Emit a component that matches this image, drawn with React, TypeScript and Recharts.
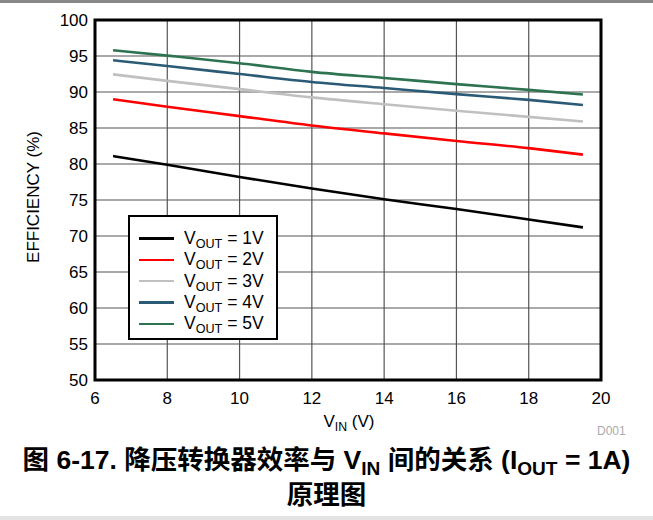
import { LineChart, Line, XAxis, YAxis, CartesianGrid, ReferenceArea } from 'recharts'

// V_IN sample points (V)
const vin = [6.5, 8, 10, 12, 14, 16, 18, 19.5]

// efficiency (%) per output voltage
const eff1V = [81.1, 79.9, 78.2, 76.6, 75.1, 73.75, 72.3, 71.2]
const eff2V = [89.0, 87.95, 86.65, 85.35, 84.25, 83.2, 82.2, 81.3]
const eff3V = [92.45, 91.55, 90.4, 89.25, 88.3, 87.4, 86.55, 85.9]
const eff4V = [94.4, 93.6, 92.5, 91.4, 90.55, 89.7, 88.9, 88.2]
const eff5V = [95.8, 95.05, 94.0, 92.8, 91.95, 91.1, 90.3, 89.65]

const xTicks = [6, 8, 10, 12, 14, 16, 18, 20]
const yTicks = [50, 55, 60, 65, 70, 75, 80, 85, 90, 95, 100]

const series = [
  { key: 'v1', name: '1V', values: eff1V, color: '#000000' },
  { key: 'v2', name: '2V', values: eff2V, color: '#ff0000' },
  { key: 'v3', name: '3V', values: eff3V, color: '#c0c0c0' },
  { key: 'v4', name: '4V', values: eff4V, color: '#2b5a76' },
  { key: 'v5', name: '5V', values: eff5V, color: '#2d7350' },
]

const data = vin.map((v, i) => {
  const row: Record<string, number> = { vin: v }
  for (const s of series) row[s.key] = s.values[i]
  return row
})

const FONT = '"Liberation Sans", Arial, sans-serif'
const sub = { fontSize: '0.72em', position: 'relative' as const, top: '0.3em' }

// legend drawn as an overlay so it doesn't eat into the plot area
function LegendBox() {
  return (
    <div style={{
      position: 'absolute', left: 128, top: 215,
      border: '2px solid #000', background: '#fff', width: 150, height: 125,
      boxSizing: 'border-box', padding: '11px 0 0 9px', fontFamily: FONT,
    }}>
      {series.map(s => (
        <div key={s.key} style={{ display: 'flex', alignItems: 'center', height: 21.3, fontSize: 17.5, color: '#000' }}>
          <span style={{ display: 'inline-block', width: 35, height: 2.5, background: s.color, marginRight: 10 }} />
          <span>V<span style={sub}>OUT</span> = {s.name}</span>
        </div>
      ))}
    </div>
  )
}

export default function App() {
  return (
    <div style={{ position: 'absolute', left: 0, top: 0, width: 653, height: 520, background: '#fff', fontFamily: FONT, overflow: 'hidden' }}>
      <div style={{ position: 'absolute', left: 0, top: 0, width: 653, height: 3, background: '#888' }} />
      <LineChart
        width={653}
        height={420}
        data={data}
        margin={{ top: 20, right: 52, left: 45, bottom: 10 }}
      >
        <CartesianGrid stroke="#555" strokeWidth={1.2} />
        <XAxis
          dataKey="vin"
          type="number"
          domain={[6, 20]}
          ticks={xTicks}
          axisLine={false}
          tickLine={false}
          tickSize={0}
          tickMargin={12}
          height={30}
          tick={{ fontSize: 17, fill: '#000', fontFamily: FONT }}
        />
        <YAxis
          type="number"
          domain={[50, 100]}
          ticks={yTicks}
          axisLine={false}
          tickLine={false}
          tickSize={0}
          tickMargin={7}
          width={50}
          tick={{ fontSize: 17, fill: '#000', fontFamily: FONT }}
        />
        {series.map(s => (
          <Line
            key={s.key}
            dataKey={s.key}
            name={s.name}
            type="monotone"
            stroke={s.color}
            strokeWidth={2.6}
            dot={false}
            isAnimationActive={false}
          />
        ))}
        <ReferenceArea x1={6} x2={20} y1={50} y2={100} fill="none" stroke="#000" strokeWidth={3} ifOverflow="visible" />
      </LineChart>
      <LegendBox />

      <div style={{
        position: 'absolute', left: 34, top: 197, fontSize: 17, whiteSpace: 'nowrap',
        transform: 'translate(-50%, -50%) rotate(-90deg)',
      }}>EFFICIENCY (%)</div>
      <div style={{ position: 'absolute', left: 349, top: 422, fontSize: 17, whiteSpace: 'nowrap', transform: 'translate(-50%, -50%)' }}>
        V<span style={sub}>IN</span> (V)
      </div>
      <div style={{ position: 'absolute', left: 597, top: 424, fontSize: 12, color: '#aaa' }}>D001</div>

      <div style={{
        position: 'absolute', left: 0, top: 444, width: 653, textAlign: 'center', fontWeight: 'bold',
        fontSize: 26.5, lineHeight: '32px', fontFamily: '"Liberation Sans", "Noto Sans CJK SC", sans-serif',
      }}>
        <div>图 6-17. 降压转换器效率与 V<span style={sub}>IN</span> 间的关系 (I<span style={sub}>OUT</span> = 1A)</div>
        <div>原理图</div>
      </div>
      <div style={{ position: 'absolute', left: 0, top: 516, width: 653, height: 4, background: '#e4e4e4' }} />
    </div>
  )
}
